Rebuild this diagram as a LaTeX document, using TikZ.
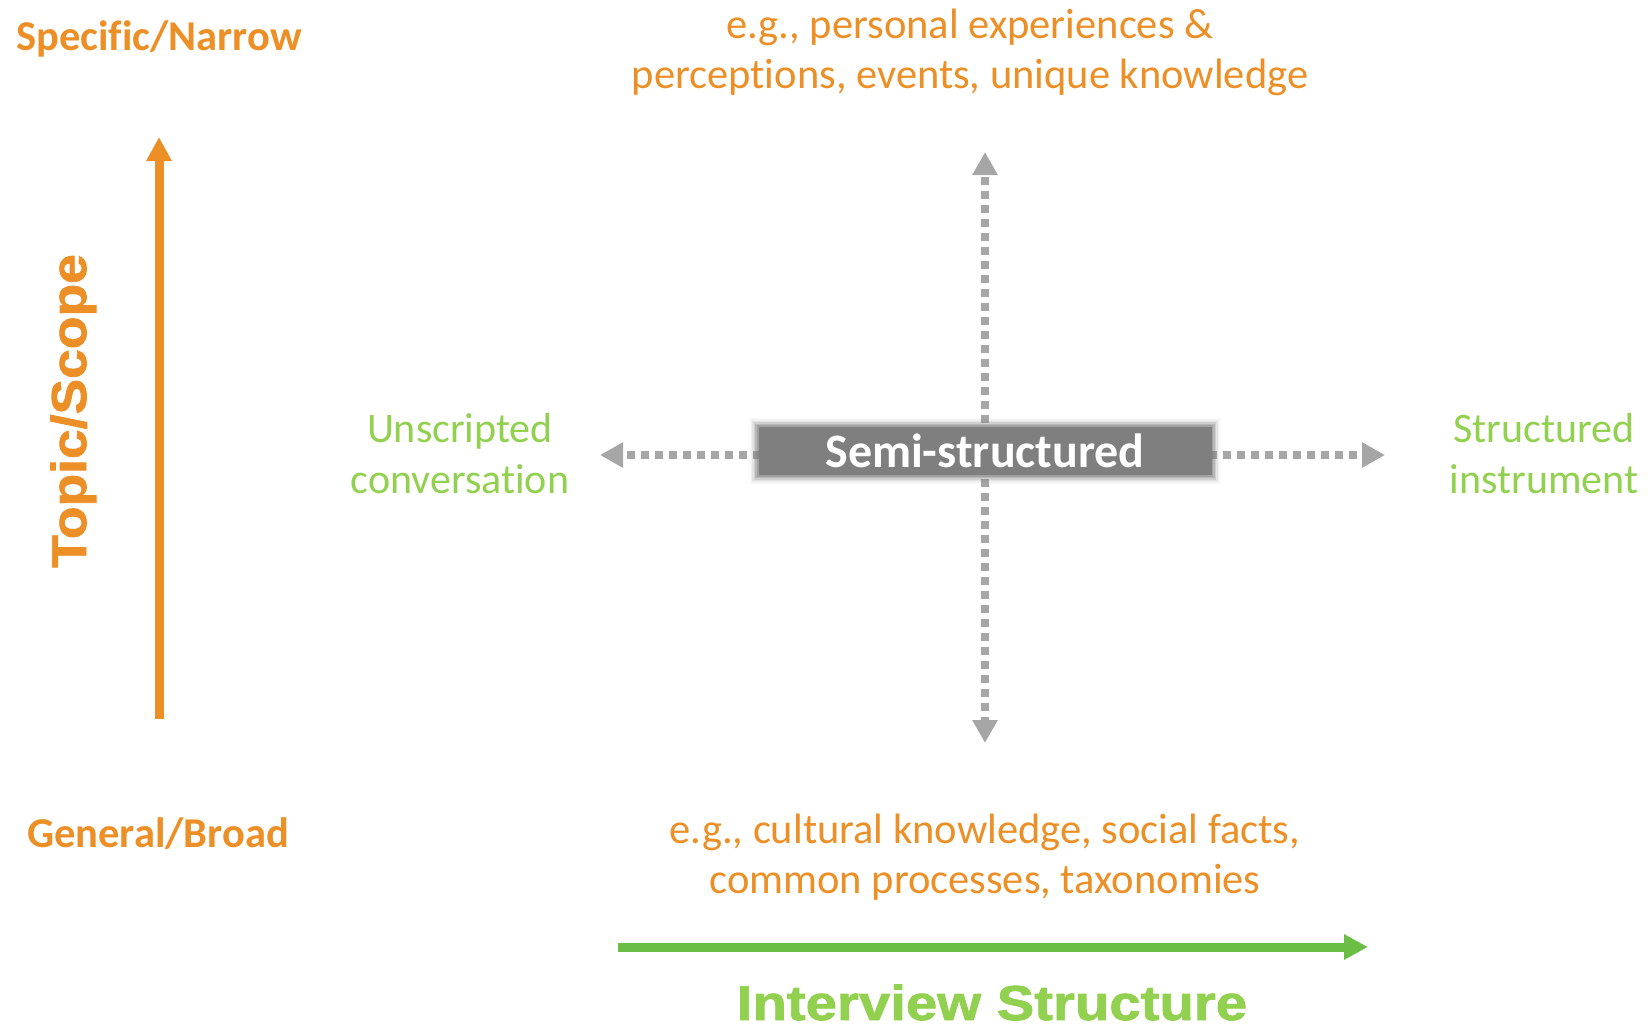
\documentclass[tikz,border=0pt]{standalone}
\usepackage{fontspec}
\setmainfont{Carlito}[Ligatures=NoCommon]
\newfontfamily\blackA{Liberation Sans}[UprightFont={* Bold}, FakeStretch=1.15, FakeBold=1.6]
\newfontfamily\blackB{Liberation Sans}[UprightFont={* Bold}, FakeStretch=1.09, FakeBold=1.6]
\usetikzlibrary{arrows.meta,backgrounds}
\definecolor{orng}{HTML}{EB8F26}
\definecolor{grntext}{HTML}{92D050}
\definecolor{grnarrow}{HTML}{6ABD45}
\definecolor{gry}{HTML}{A6A6A6}
\definecolor{boxg}{HTML}{7F7F7F}
\tikzset{
  boldlabel/.style={text=orng, font=\bfseries\fontsize{42.5}{50}\selectfont, inner sep=0pt},
  orngtext/.style={text=orng, align=center, font=\fontsize{42.5}{50}\selectfont, inner sep=0pt},
  grntxt/.style={text=grntext, align=center, font=\fontsize{42}{51}\selectfont, inner sep=0pt},
  dotarrow/.style={draw=gry, line width=8pt, dash pattern=on 8pt off 6pt,
    -{Triangle[length=23pt,width=24pt]}},
  semibox/.style={fill=boxg, text=white, font=\bfseries\fontsize{48}{56}\selectfont,
    minimum width=453pt, minimum height=48pt, inner sep=0pt},
}
\begin{document}
\begin{tikzpicture}[x=1pt,y=-1pt]
\useasboundingbox (0,0) rectangle (1650,1028);

% left axis
\node[boldlabel, anchor=base] (spec) at (159,50) {Specific/Narrow};
\node[boldlabel, anchor=base] (gen) at (158,847) {General/Broad};
\node[text=orng, font=\blackB\fontsize{49}{56}\selectfont, inner sep=0pt, rotate=90, anchor=base] (topic) at (86,411) {Topic/Scope};
\coordinate (ob) at (159,719);
\coordinate (ot) at (159,137);
\draw[orng, line width=9pt, -{Triangle[length=24pt,width=24pt]}] (ob) -- (ot);

% central box
\node[semibox] (semi) at (985,451) {Semi-structured};
\coordinate (vt) at (985,152);
\coordinate (vb) at (985,743);
\coordinate (hl) at (600,455);
\coordinate (hr) at (1385,455);
\begin{scope}[on background layer]
  \draw[dotarrow] (semi.center) -- (vt);
  \draw[dotarrow] (semi.center) -- (vb);
  \draw[dotarrow] ([yshift=-4pt]semi.center) -- (hl);
  \draw[dotarrow] ([yshift=-4pt]semi.center) -- (hr);
  \foreach \d/\o in {1.5/0.4,3/0.3,4.5/0.2,6/0.12,7.5/0.07,9/0.04}{
    \fill[boxg, opacity=\o] ([shift={(-\d,-\d)}]semi.north west) rectangle ([shift={(\d,\d)}]semi.south east);
  }
\end{scope}

% texts
\node[orngtext] (top) at (970,52) {e.g., personal experiences \&\\perceptions, events, unique knowledge};
\node[orngtext] (bot) at (985,857) {e.g., cultural knowledge, social facts,\\common processes, taxonomies};
\node[grntxt] (unscr) at (460,454) {Unscripted\\conversation};
\node[grntxt] (struct) at (1544,454) {Structured\\instrument};

% bottom axis
\coordinate (gl) at (618,947);
\coordinate (gr) at (1368,947);
\draw[grnarrow, line width=9pt, -{Triangle[length=24pt,width=24pt]}] (gl) -- (gr);
\node[text=grntext, font=\blackA\fontsize{49}{56}\selectfont, inner sep=0pt, anchor=base] (istruct) at (992,1020) {Interview Structure};
\end{tikzpicture}
\end{document}
